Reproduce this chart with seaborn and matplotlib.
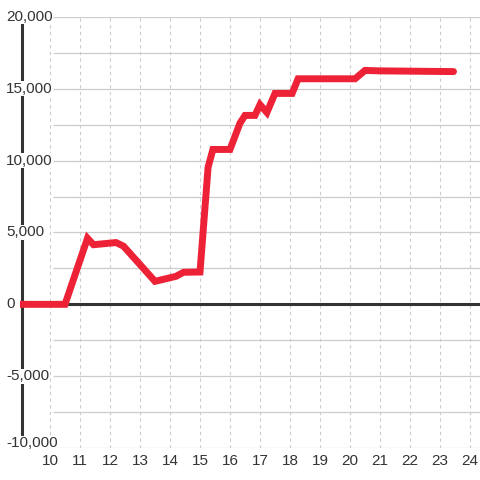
import seaborn as sns
import matplotlib
matplotlib.use('Agg')
import matplotlib.pyplot as plt
from matplotlib.transforms import ScaledTranslation
import pandas as pd

# data
x_vals = [9.0, 10.5, 11.25, 11.45, 12.2, 12.45, 13.5, 13.7, 14.2, 14.45, 15.0,
          15.27, 15.43, 16.0, 16.33, 16.5, 16.83, 17.0, 17.23, 17.5, 18.07,
          18.27, 20.17, 20.5, 21.0, 23.45]
y_vals = [0, 0, 4600, 4150, 4300, 4050, 1600, 1700, 1950, 2230, 2250,
          9550, 10780, 10780, 12600, 13150, 13150, 13900, 13350, 14680, 14680,
          15700, 15700, 16280, 16250, 16200]
x_ticks = list(range(10, 25))
y_ticks = [-10000, -5000, 0, 5000, 10000, 15000, 20000]
y_grid = [-10000, -7500, -5000, -2500, 2500, 5000, 7500, 10000, 12500, 15000, 17500, 20000]

data = pd.DataFrame({'x': x_vals, 'y': y_vals})

sns.set_style("white")
plt.rcParams['font.family'] = ['Liberation Sans', 'DejaVu Sans']

fig = plt.figure(figsize=(4.8, 4.8), dpi=100)
ax = fig.add_axes([20 / 480, 32 / 480, 460 / 480, 431 / 480])
ax.set_xlim(9.0, 9.0 + 460 / 30)
ax.set_ylim(-10000, 20000)

# grid
ax.set_xticks(x_ticks)
ax.xaxis.grid(True, color='#cccccc', lw=0.8, linestyle=(0, (3, 3)))
ax.set_axisbelow(True)
ax.hlines(y_grid, 10.1, 9.0 + 460 / 30, color='#cccccc', lw=0.9, zorder=0.8)

# zero line and left axis line
ax.axhline(0, color='#333333', lw=2.2, zorder=1.5)
ax.axvline(9.05, color='#333333', lw=2.2, zorder=1.5, clip_on=False)

# the darn line
sns.lineplot(x='x', y='y', data=data, estimator=None, sort=False,
             color='#ee2236', lw=5, ax=ax, zorder=2)
ax.lines[-1].set_solid_joinstyle('miter')

for s in ax.spines.values():
    s.set_visible(False)

# y labels sit on top of the axis line, left aligned
ax.set_yticks(y_ticks)
ax.set_yticklabels([])
ax.tick_params(axis='y', length=0)
ytrans = ax.get_yaxis_transform()
for v in y_ticks:
    tr = ytrans
    if v == y_ticks[0]:
        tr = ytrans + ScaledTranslation(0, 5 / 100, fig.dpi_scale_trans)
    ax.text(-14 / 460, v, f"{v:,}", transform=tr, ha='left', va='center',
            fontsize=11, color='#333333', zorder=5, clip_on=False,
            bbox=dict(facecolor='white', edgecolor='none', pad=0.3))

ax.tick_params(axis='x', length=0, pad=4, labelsize=11, labelcolor='#333333')
ax.set_xlabel('')
ax.set_ylabel('')

plt.savefig('out.png', dpi=100)
